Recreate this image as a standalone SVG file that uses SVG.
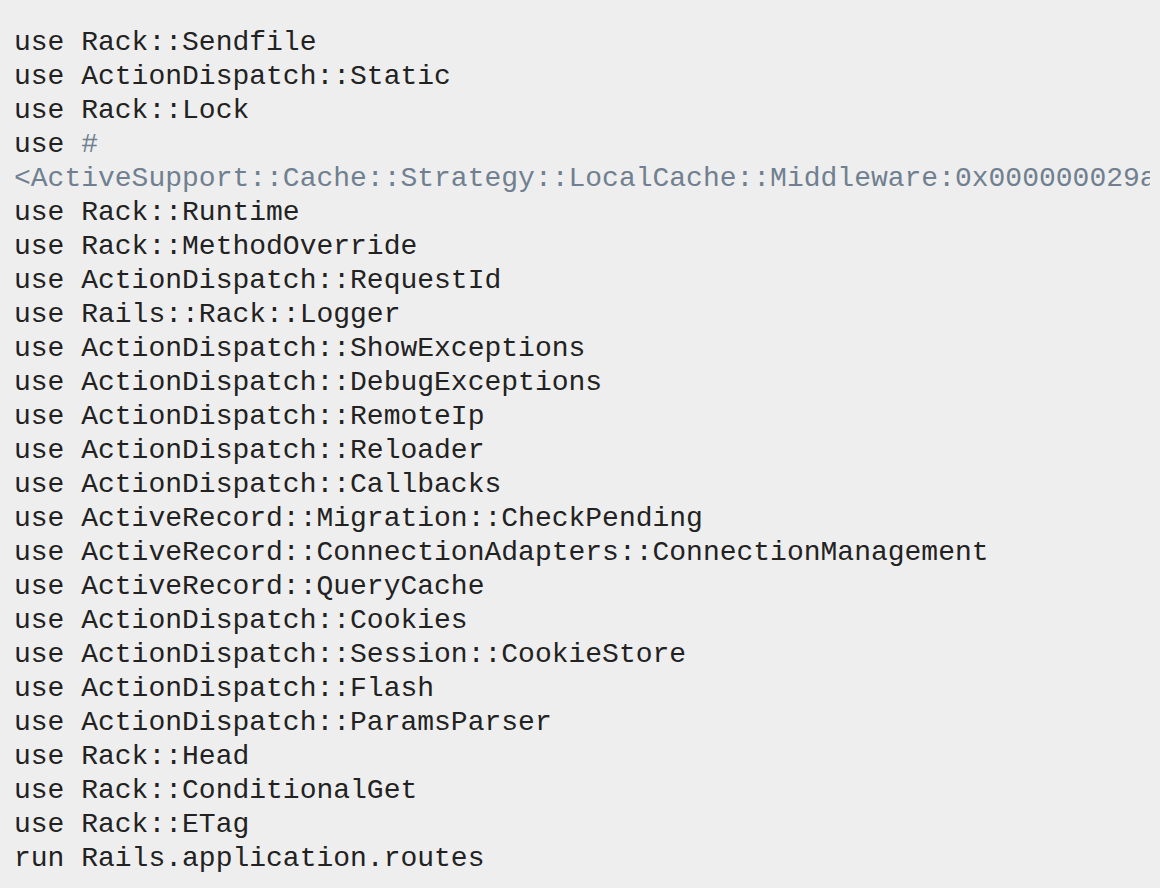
<svg xmlns="http://www.w3.org/2000/svg" width="1160" height="888" viewBox="0 0 1160 888">
<style>
text{font-family:"Courier New","Nimbus Mono PS","Nimbus Mono L",FreeMono,"Liberation Mono",monospace;font-size:28px;fill:#222222;white-space:pre}
.c{fill:#708090}
</style>
<defs><clipPath id="clip"><rect x="0" y="0" width="1150" height="888"/></clipPath></defs>
<rect x="0" y="0" width="1160" height="888" fill="#eeeeee"/>
<g id="code" clip-path="url(#clip)">
<text x="14" y="50">use Rack::Sendfile</text>
<text x="14" y="84">use ActionDispatch::Static</text>
<text x="14" y="118">use Rack::Lock</text>
<text x="14" y="152">use <tspan class="c">#</tspan></text>
<text x="14" y="186" class="c">&lt;ActiveSupport::Cache::Strategy::LocalCache::Middleware:0x000000029a</text>
<text x="14" y="220">use Rack::Runtime</text>
<text x="14" y="254">use Rack::MethodOverride</text>
<text x="14" y="288">use ActionDispatch::RequestId</text>
<text x="14" y="322">use Rails::Rack::Logger</text>
<text x="14" y="356">use ActionDispatch::ShowExceptions</text>
<text x="14" y="390">use ActionDispatch::DebugExceptions</text>
<text x="14" y="424">use ActionDispatch::RemoteIp</text>
<text x="14" y="458">use ActionDispatch::Reloader</text>
<text x="14" y="492">use ActionDispatch::Callbacks</text>
<text x="14" y="526">use ActiveRecord::Migration::CheckPending</text>
<text x="14" y="560">use ActiveRecord::ConnectionAdapters::ConnectionManagement</text>
<text x="14" y="594">use ActiveRecord::QueryCache</text>
<text x="14" y="628">use ActionDispatch::Cookies</text>
<text x="14" y="662">use ActionDispatch::Session::CookieStore</text>
<text x="14" y="696">use ActionDispatch::Flash</text>
<text x="14" y="730">use ActionDispatch::ParamsParser</text>
<text x="14" y="764">use Rack::Head</text>
<text x="14" y="798">use Rack::ConditionalGet</text>
<text x="14" y="832">use Rack::ETag</text>
<text x="14" y="866">run Rails.application.routes</text>
</g>
</svg>
